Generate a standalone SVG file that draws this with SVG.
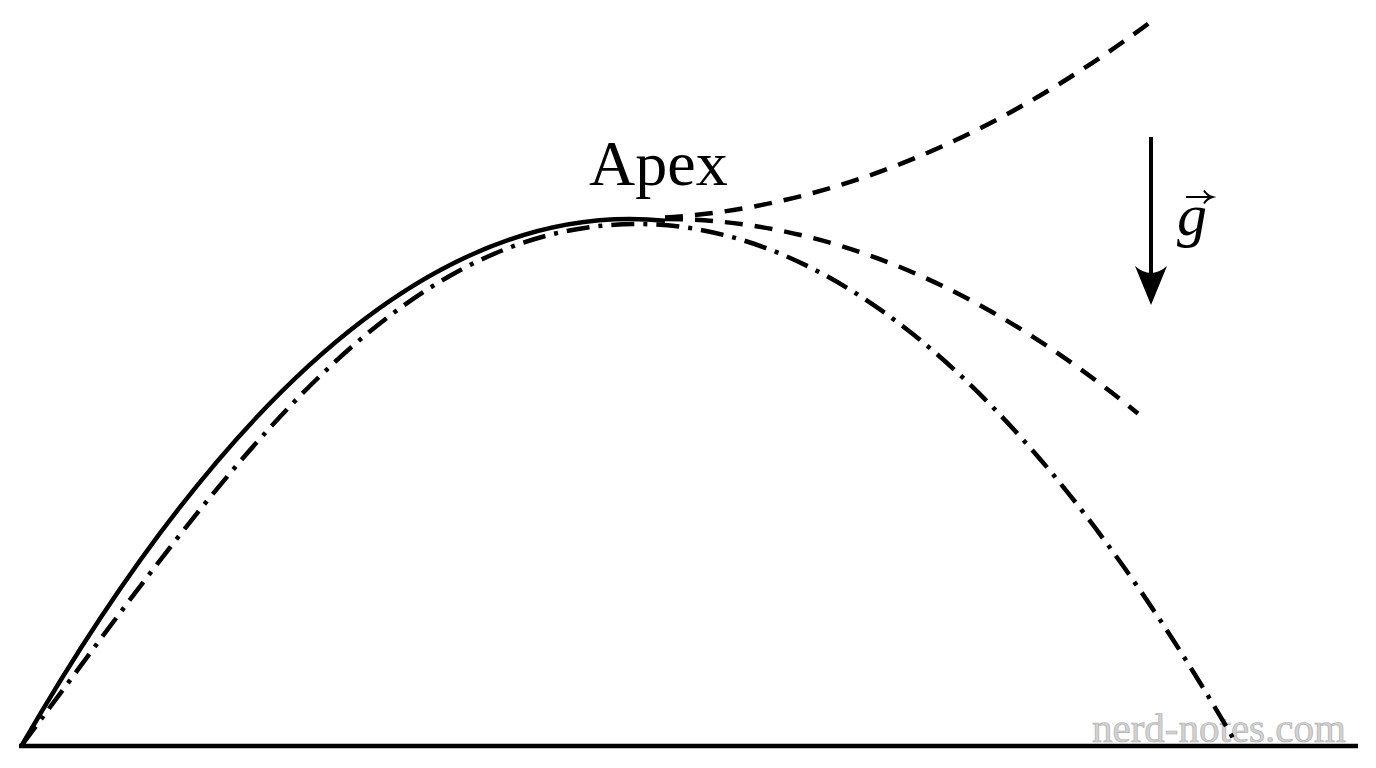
<svg xmlns="http://www.w3.org/2000/svg" width="1376" height="768" viewBox="0 0 1376 768">
  <style>
    .curve { fill: none; stroke: #000; stroke-width: 4.5; }
    .dashed { stroke-dasharray: 18 12; }
    .dashdot { stroke-dasharray: 23 9 4 9; }
    .label { font-family: "Liberation Serif", "Times New Roman", serif; fill: #000; }
    .wm { font-family: "Liberation Serif", "Times New Roman", serif; font-size: 41px; fill: #d2d2d2; stroke: #b0b0b0; stroke-width: 0.7; }
  </style>
  <rect width="1376" height="768" fill="#fff"/>
  <g id="watermark">
    <text class="wm" x="1092" y="742">nerd-notes.com</text>
  </g>
  <g id="ground">
    <line x1="19" y1="746" x2="1358" y2="746" stroke="#000" stroke-width="4.5"/>
  </g>
  <g id="trajectories">
    <path id="ascent" class="curve" d="M22,745 Q343.5,188.4 665,220.8"/>
    <path id="parabola" class="curve dashdot" d="M22,745 C225,472 392,224 637,224 Q937,224 1237,745"/>
    <path id="up" class="curve dashed" d="M665,217.6 Q908.5,202.3 1152,20.9"/>
    <path id="weak" class="curve dashed" d="M665,219 Q901.5,219 1138,413.6"/>
  </g>
  <g id="gravity">
    <line x1="1151" y1="137" x2="1151" y2="282" stroke="#000" stroke-width="4"/>
    <path d="M1151,305 L1135,266 Q1151,280 1167,266 Z" fill="#000"/>
    <text class="label" x="1177" y="235" font-size="60" font-style="italic">g</text>
    <path d="M1186,197 H1210 M1204,190.5 Q1207,195.5 1212.5,197 Q1207,198.5 1204,203.5" fill="none" stroke="#000" stroke-width="2"/>
  </g>
  <g id="apex-label">
    <text class="label" x="589" y="185" font-size="64">Apex</text>
  </g>
</svg>
